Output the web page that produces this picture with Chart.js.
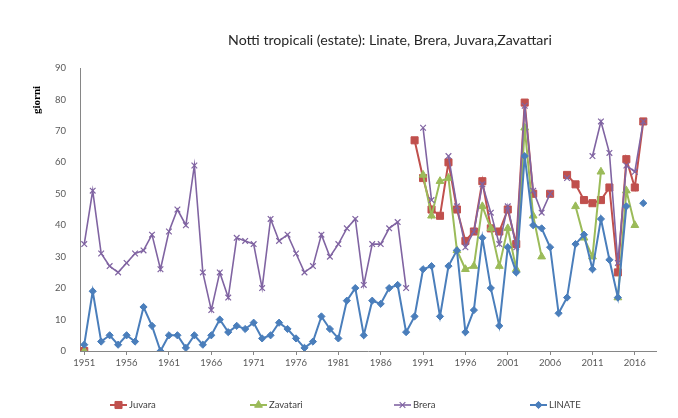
<!DOCTYPE html>
<html>
<head>
<meta charset="utf-8">
<script src="https://cdn.jsdelivr.net/npm/chart.js@4"></script>
<style>
  html, body { margin: 0; padding: 0; background: #fff; }
  #wrap { width: 678px; height: 418px; }
</style>
</head>
<body>
<div id="wrap"><canvas id="chart" width="678" height="418"></canvas></div>
<script>
const titleText = "Notti tropicali (estate): Linate, Brera, Juvara,Zavattari";
const yTitle = "giorni";

const years = [
  1951, 1952, 1953, 1954, 1955, 1956, 1957, 1958, 1959, 1960,
  1961, 1962, 1963, 1964, 1965, 1966, 1967, 1968, 1969, 1970,
  1971, 1972, 1973, 1974, 1975, 1976, 1977, 1978, 1979, 1980,
  1981, 1982, 1983, 1984, 1985, 1986, 1987, 1988, 1989, 1990,
  1991, 1992, 1993, 1994, 1995, 1996, 1997, 1998, 1999, 2000,
  2001, 2002, 2003, 2004, 2005, 2006, 2007, 2008, 2009, 2010,
  2011, 2012, 2013, 2014, 2015, 2016, 2017, 2018
];

const juvara = [
  0, null, null, null, null, null, null, null, null, null,
  null, null, null, null, null, null, null, null, null, null,
  null, null, null, null, null, null, null, null, null, null,
  null, null, null, null, null, null, null, null, null, 67,
  55, 45, 43, 60, 45, 35, 38, 54, 39, 38,
  45, 34, 79, 50, null, 50, null, 56, 53, 48,
  47, 48, 52, 25, 61, 52, 73, null
];

const zavatari = [
  0, null, null, null, null, null, null, null, null, null,
  null, null, null, null, null, null, null, null, null, null,
  null, null, null, null, null, null, null, null, null, null,
  null, null, null, null, null, null, null, null, null, null,
  56, 43, 54, 55, 32, 26, 27, 46, 39, 27,
  39, 26, 71, 43, 30, null, null, null, 46, 36,
  30, 57, null, 17, 51, 40, null, null
];

const brera = [
  34, 51, 31, 27, 25, 28, 31, 32, 37, 26,
  38, 45, 40, 59, 25, 13, 25, 17, 36, 35,
  34, 20, 42, 35, 37, 31, 25, 27, 37, 30,
  34, 39, 42, 21, 34, 34, 39, 41, 20, null,
  71, 48, null, 62, 46, 33, 38, 53, 44, 34,
  46, 33, 78, 51, 44, 50, null, 55, null, null,
  62, 73, 63, 28, 59, 57, 73, null
];

const linate = [
  2, 19, 3, 5, 2, 5, 3, 14, 8, 0,
  5, 5, 1, 5, 2, 5, 10, 6, 8, 7,
  9, 4, 5, 9, 7, 4, 1, 3, 11, 7,
  4, 16, 20, 5, 16, 15, 20, 21, 6, 11,
  26, 27, 11, 27, 32, 6, 13, 36, 20, 8,
  33, 25, 62, 40, 39, 33, 12, 17, 34, 37,
  26, 42, 29, 17, 46, null, 47, null
];

const seriesNames = ["Juvara", "Zavatari", "Brera", "LINATE"];

Chart.defaults.font.family = "Lato, 'Liberation Sans', sans-serif";
Chart.defaults.font.size = 9.5;
Chart.defaults.color = "#595959";

function series(label, data, color, style, radius, order, width) {
  return {
    label: label,
    data: data,
    borderColor: color,
    backgroundColor: color,
    pointBackgroundColor: color,
    pointBorderColor: color,
    pointStyle: style,
    pointRadius: radius,
    pointBorderWidth: style === 'crossRot' ? 1.2 : 1,
    borderWidth: width,
    tension: 0,
    order: order,
    spanGaps: false
  };
}

const legendX = [110, 250, 394, 530];

const decor = {
  id: 'decor',
  afterDraw(chart) {
    const c = chart.ctx;
    c.save();
    // title
    c.fillStyle = '#262626';
    c.font = "15px Lato, sans-serif";
    const w = c.measureText(titleText).width;
    const size = 15 * 324 / w;
    c.font = size.toFixed(2) + "px Lato, sans-serif";
    c.textAlign = 'center';
    c.textBaseline = 'middle';
    c.fillText(titleText, 390, 40);
    c.restore();

    // y axis title
    c.save();
    c.translate(37, 100);
    c.rotate(-Math.PI / 2);
    c.fillStyle = '#000';
    c.font = "bold 11px 'Liberation Serif', serif";
    c.textAlign = 'center';
    c.textBaseline = 'middle';
    c.fillText(yTitle, 0, 0);
    c.restore();

    // legend
    c.save();
    chart.data.datasets.forEach((ds, i) => {
      const x0 = legendX[i], y = 405;
      c.strokeStyle = ds.borderColor;
      c.lineWidth = ds.borderWidth;
      c.beginPath();
      c.moveTo(x0, y);
      c.lineTo(x0 + 17, y);
      c.stroke();
      c.fillStyle = ds.pointBackgroundColor;
      c.strokeStyle = ds.pointBorderColor;
      c.lineWidth = ds.pointBorderWidth;
      Chart.helpers.drawPoint(c, { pointStyle: ds.pointStyle, radius: ds.pointRadius, borderWidth: ds.pointBorderWidth, rotation: 0 }, x0 + 8.5, y);
      c.fillStyle = '#404040';
      c.font = "9.5px Lato, sans-serif";
      c.textAlign = 'left';
      c.textBaseline = 'middle';
      c.fillText(ds.label, x0 + 19, y);
    });
    c.restore();
  }
};

new Chart(document.getElementById('chart'), {
  type: 'line',
  data: {
    labels: years,
    datasets: [
      series(seriesNames[0], juvara, '#C0504D', 'rect', 5, 3, 2),
      series(seriesNames[1], zavatari, '#9BBB59', 'triangle', 4.5, 2, 2),
      series(seriesNames[2], brera, '#8064A2', 'crossRot', 4, 1, 1.6),
      series(seriesNames[3], linate, '#4A7EBB', 'rectRot', 3.6, 0, 2)
    ]
  },
  options: {
    responsive: false,
    animation: false,
    layout: { padding: { left: 0, right: 22, top: 68, bottom: 47 } },
    plugins: {
      legend: { display: false },
      title: { display: false },
      tooltip: { enabled: false }
    },
    scales: {
      x: {
        type: 'category',
        offset: true,
        afterFit: s => { s.height = 20; },
        grid: {
          display: true,
          drawOnChartArea: false,
          drawTicks: true,
          tickLength: 4,
          offset: false,
          color: ctx => (ctx.index % 5 === 0 ? '#868686' : 'rgba(0,0,0,0)')
        },
        border: { display: true, color: '#868686' },
        ticks: {
          autoSkip: false,
          maxRotation: 0,
          minRotation: 0,
          padding: 2,
          callback: function (value, index) {
            return (years[index] - 1951) % 5 === 0 ? String(years[index]) : '';
          }
        }
      },
      y: {
        min: 0,
        max: 90,
        afterFit: s => { s.width = 80; },
        grid: { display: false },
        border: { display: true, color: '#868686' },
        ticks: { stepSize: 10, padding: 6 }
      }
    }
  },
  plugins: [decor]
});
</script>
</body>
</html>
